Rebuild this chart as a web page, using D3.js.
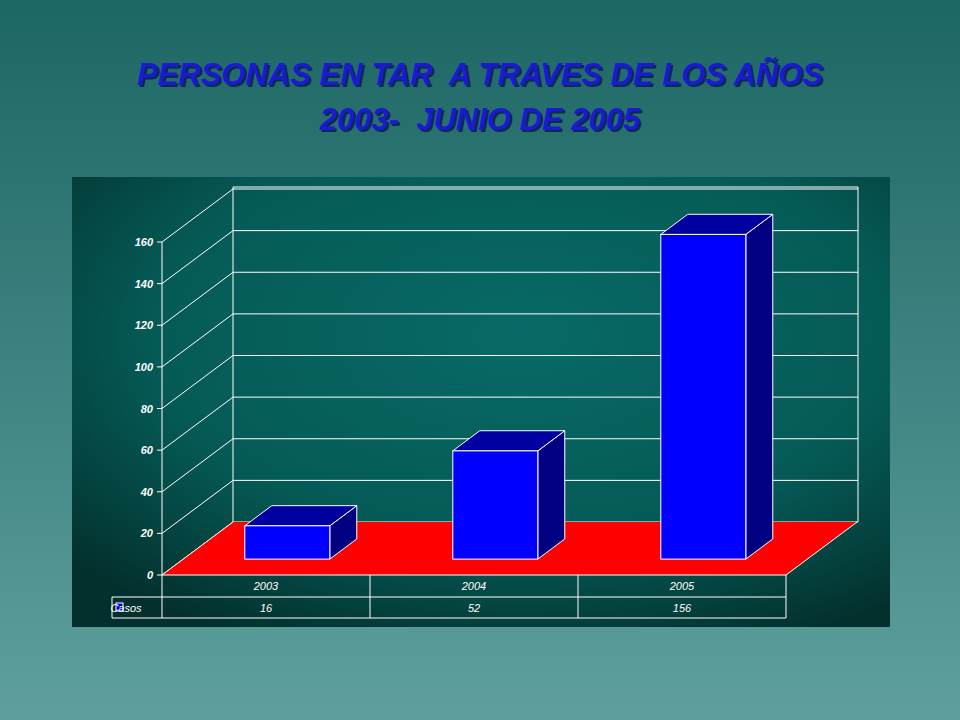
<!DOCTYPE html>
<html><head><meta charset="utf-8">
<script src="https://cdn.jsdelivr.net/npm/d3@7"></script>
<style>body{margin:0}svg{display:block}</style>
</head><body>
<script>
// data
const years = ["2003", "2004", "2005"]
const casos = [16, 52, 156]
const yTicks = [0, 20, 40, 60, 80, 100, 120, 140, 160]
const seriesName = "Casos"

const svg = d3.select("body").append("svg").attr("width", 960).attr("height", 720)
const defs = svg.append("defs")

const bg = defs.append("linearGradient").attr("id", "bg").attr("x1", 0).attr("y1", 0).attr("x2", 0).attr("y2", 1)
bg.append("stop").attr("offset", 0).attr("stop-color", "#1c6663")
bg.append("stop").attr("offset", 1).attr("stop-color", "#5fa09e")
svg.append("rect").attr("width", 960).attr("height", 720).attr("fill", "url(#bg)")

const pg = defs.append("radialGradient").attr("id", "panel").attr("cx", 0.55).attr("cy", 0.35).attr("r", 0.75)
pg.append("stop").attr("offset", 0).attr("stop-color", "#086a66")
pg.append("stop").attr("offset", 0.6).attr("stop-color", "#055a56")
pg.append("stop").attr("offset", 1).attr("stop-color", "#03302d")
svg.append("rect").attr("x", 72).attr("y", 177).attr("width", 818).attr("height", 450).attr("fill", "url(#panel)")

// title
const title = ["PERSONAS EN TAR  A TRAVES DE LOS AÑOS", "2003-  JUNIO DE 2005"]
title.forEach((t, i) => {
    [[2, 2, "#0a2a50"], [0, 0, "#1a1ad0"]].forEach(([dx, dy, c]) => {
        svg.append("text").attr("x", 480 + dx).attr("y", 85 + i * 45 + dy)
            .attr("text-anchor", "middle").attr("fill", c)
            .attr("font-family", "Liberation Sans, Arial, sans-serif")
            .attr("font-size", 31).attr("font-weight", "bold").attr("font-style", "italic")
            .style("white-space", "pre").text(t)
    })
})

// scales
const x = d3.scaleBand().domain(years).range([162, 786])
const y = d3.scaleLinear().domain([0, 160]).range([575, 242])
const DX = 71, DY = -53
const wallTop = 187
const g = svg.append("g")
const line = (pts) => "M" + pts.map(p => p.join(",")).join("L")

// back wall grid
yTicks.forEach(v => {
    const yy = y(v)
    g.append("path").attr("d", line([[162, yy], [162 + DX, yy + DY], [858, yy + DY]]))
        .attr("fill", "none").attr("stroke", "#fff").attr("stroke-width", 1)
})
g.append("path").attr("d", line([[162 + DX, y(0) + DY], [162 + DX, wallTop]]) + line([[858, y(0) + DY], [858, wallTop]]))
    .attr("fill", "none").attr("stroke", "#fff")
g.append("path").attr("d", line([[162 + DX, wallTop], [858, wallTop]])).attr("stroke", "#fff")
g.append("path").attr("d", line([[162, y(0)], [162, y(160)]])).attr("stroke", "#fff")

// floor
g.append("path").attr("d", line([[162, y(0)], [786, y(0)], [786 + DX, y(0) + DY], [162 + DX, y(0) + DY]]) + "Z")
    .attr("fill", "#ff0000").attr("stroke", "none")
g.append("path").attr("d", line([[162, y(0)], [162 + DX, y(0) + DY]]) + line([[786, y(0)], [786 + DX, y(0) + DY]]))
    .attr("stroke", "#fff").attr("fill", "none")

// y labels
g.selectAll(".yl").data(yTicks).enter().append("text")
    .attr("x", 153).attr("y", d => y(d) + 4).attr("text-anchor", "end")
    .attr("fill", "#fff").attr("font-family", "Liberation Sans, Arial, sans-serif")
    .attr("font-size", 11).attr("font-weight", "bold").attr("font-style", "italic").text(d => d)
g.selectAll(".yt").data(yTicks).enter().append("line")
    .attr("x1", 157).attr("x2", 162).attr("y1", d => y(d)).attr("y2", d => y(d)).attr("stroke", "#fff")

// bars
const d1 = 0.3, d2 = 0.68, bw = 85
casos.forEach((v, i) => {
    const cx = x(years[i]) + x.bandwidth() / 2
    const x0 = cx - bw / 2 + DX * d1, x1 = x0 + bw
    const yb = y(0) + DY * d1, yt = y(v) + DY * d1
    const ox = DX * (d2 - d1), oy = DY * (d2 - d1)
    g.append("path").attr("d", line([[x1, yb], [x1 + ox, yb + oy], [x1 + ox, yt + oy], [x1, yt]]) + "Z")
        .attr("fill", "#000080").attr("stroke", "#fff")
    g.append("path").attr("d", line([[x0, yt], [x0 + ox, yt + oy], [x1 + ox, yt + oy], [x1, yt]]) + "Z")
        .attr("fill", "#0000a0").attr("stroke", "#fff")
    g.append("rect").attr("x", x0).attr("y", yt).attr("width", bw).attr("height", yb - yt)
        .attr("fill", "#0000ff").attr("stroke", "#fff")
})

// data table
const rowY = [575, 597, 618]
g.append("path").attr("d", line([[162, rowY[0]], [786, rowY[0]], [786, rowY[2]], [112, rowY[2]], [112, rowY[1]], [786, rowY[1]]]))
    .attr("fill", "none").attr("stroke", "#fff")
;[162, 370, 578].forEach(xx => g.append("line").attr("x1", xx).attr("x2", xx).attr("y1", rowY[0]).attr("y2", rowY[2]).attr("stroke", "#fff"))
const tf = sel => sel.attr("fill", "#fff").attr("font-family", "Liberation Sans, Arial, sans-serif")
    .attr("font-size", 11).attr("font-style", "italic").attr("text-anchor", "middle")
years.forEach((yr, i) => {
    const cx = x(yr) + x.bandwidth() / 2
    tf(g.append("text").attr("x", cx).attr("y", 590).text(yr))
    tf(g.append("text").attr("x", cx).attr("y", 612).text(casos[i]))
})
g.append("rect").attr("x", 116).attr("y", 603).attr("width", 7).attr("height", 8).attr("fill", "#0000ff").attr("stroke", "#fff")
tf(g.append("text").attr("x", 126).attr("y", 612).attr("text-anchor", "start").text(seriesName))
</script>
</body></html>
